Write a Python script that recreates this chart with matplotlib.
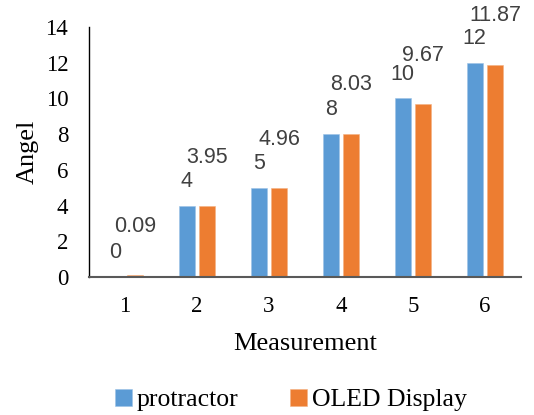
import matplotlib
matplotlib.use("Agg")
import matplotlib.pyplot as plt
import numpy as np

categories = ["1", "2", "3", "4", "5", "6"]
protractor = [0, 4, 5, 8, 10, 12]
oled = [0.09, 3.95, 4.96, 8.03, 9.67, 11.87]
protractor_labels = ["0", "4", "5", "8", "10", "12"]
oled_labels = ["0.09", "3.95", "4.96", "8.03", "9.67", "11.87"]
yticks = [0, 2, 4, 6, 8, 10, 12, 14]

BLUE = "#5B9BD5"
ORANGE = "#ED7D31"
serif = ["Liberation Serif", "DejaVu Serif"]
sans = ["Liberation Sans", "DejaVu Sans"]

fig = plt.figure(figsize=(5.34, 4.15), dpi=100)
ax = fig.add_axes([0.1667, 0.3325, 0.809, 0.6025])

x = np.arange(len(categories))
w = 0.222
off = 0.142
b1 = ax.bar(x - off, protractor, width=w, color=BLUE, edgecolor="#9DC3E6", linewidth=0.4, label="protractor")
b2 = ax.bar(x + off, oled, width=w, color=ORANGE, edgecolor="#F4B183", linewidth=0.4, label="OLED Display")

for xi, v, t in zip(x - off, protractor, protractor_labels):
    ax.annotate(t, (xi, v), xytext=(0, 17.5), textcoords="offset points",
                ha="center", va="center", fontsize=15.5, color="#404040", family=sans)
for xi, v, t in zip(x + off, oled, oled_labels):
    ax.annotate(t, (xi, v), xytext=(0, 35.5), textcoords="offset points",
                ha="center", va="center", fontsize=15.5, color="#404040", family=sans,
                annotation_clip=False)

ax.set_xlim(-0.5, 5.5)
ax.set_ylim(0, 14)
ax.set_yticks(yticks)
ax.set_yticklabels([str(t) for t in yticks], family=serif, fontsize=16.5)
ax.set_xticks(x)
ax.set_xticklabels(categories, family=serif, fontsize=16.5)
ax.tick_params(axis="x", length=0, pad=14)
ax.tick_params(axis="y", length=0, pad=15)
for s in ["top", "right"]:
    ax.spines[s].set_visible(False)
ax.spines["left"].set_color("black")
ax.spines["bottom"].set_color("#595959")
ax.spines["left"].set_linewidth(1.0)
ax.spines["bottom"].set_linewidth(1.5)

ax.set_xlabel("Measurement", family=serif, fontsize=19, labelpad=11)
ax.set_ylabel("Angel", family=serif, fontsize=19, labelpad=5)

fig.legend(handles=[b1, b2], labels=["protractor", "OLED Display"], loc="lower center",
           bbox_to_anchor=(0.545, -0.047), ncol=2, frameon=False,
           prop={"family": serif, "size": 18.5}, handlelength=0.65, handleheight=0.65,
           handletextpad=0.2, columnspacing=2.0)

fig.savefig("out.png", dpi=100)
